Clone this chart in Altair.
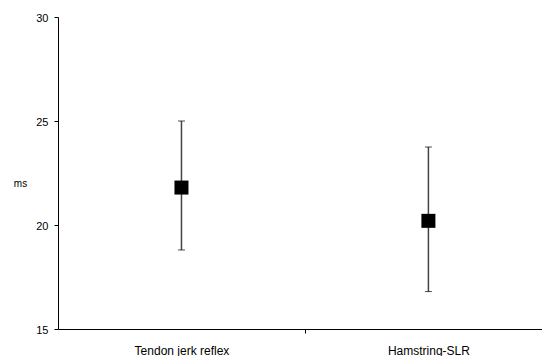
import altair as alt
import pandas as pd

# Mean latency with range for each test
categories = ["Tendon jerk reflex", "Hamstring-SLR"]
means = [21.8, 20.2]
lows = [18.8, 16.8]
highs = [25.0, 23.75]

df = pd.DataFrame({"test": categories, "mean": means, "low": lows, "high": highs})

FONT = "Liberation Sans"

# Category labels placed at band centres (0.5, 1.5); a single tick sits at the band boundary (1)
label_expr = " : ".join(
    f"datum.value == {i + 0.5} ? '{c}'" for i, c in enumerate(categories)
) + " : ''"

x_axis = alt.Axis(
    values=[0.5, 1, 1.5],
    labelExpr=label_expr,
    title=None,
    grid=False,
    domainColor="black",
    tickColor="black",
    tickSize=4,
    tickOpacity={"condition": {"test": "datum.value == 1", "value": 1}, "value": 0},
    labelFont=FONT,
    labelFontSize=12,
    labelColor="black",
    labelPadding=12,
    labelFlush=False,
    labelOverlap=False,
)

y_axis = alt.Axis(
    values=[15, 20, 25, 30],
    title="ms",
    titleAngle=0,
    titleFont=FONT,
    titleFontSize=10,
    titleFontWeight="normal",
    titleColor="black",
    titleAlign="center",
    titleBaseline="middle",
    titleX=-38,
    titleY=166,
    grid=False,
    domainColor="black",
    tickColor="black",
    tickSize=4,
    labelFont=FONT,
    labelFontSize=11,
    labelColor="black",
    labelPadding=6,
    labelOffset=1,
)

base = alt.Chart(df).transform_window(
    idx="row_number()"
).transform_calculate(
    pos="datum.idx - 0.5"
)

x_enc = alt.X("pos:Q", scale=alt.Scale(domain=[0, 1.96], nice=False, zero=False), axis=x_axis)
y_scale = alt.Scale(domain=[15, 30], nice=False, zero=False)

bars = base.mark_rule(color="#444444", strokeWidth=1.5).encode(
    x=x_enc,
    y=alt.Y("low:Q", scale=y_scale, axis=y_axis),
    y2="high:Q",
)

cap_low = base.mark_tick(color="black", orient="horizontal", size=7, thickness=1).encode(
    x="pos:Q", y="low:Q"
)
cap_high = base.mark_tick(color="black", orient="horizontal", size=7, thickness=1).encode(
    x="pos:Q", y="high:Q"
)

points = base.mark_square(color="black", size=196, opacity=1, filled=True).encode(
    x="pos:Q", y="mean:Q"
)

chart = alt.layer(bars, cap_low, cap_high, points).properties(
    width=484,
    height=312,
    autosize=alt.AutoSizeParams(type="none"),
    padding={"left": 58, "top": 17, "right": 0, "bottom": 27},
    background="white",
).configure_view(stroke=None)

chart.save("out.html", embed_options={"renderer": "svg", "actions": False})
